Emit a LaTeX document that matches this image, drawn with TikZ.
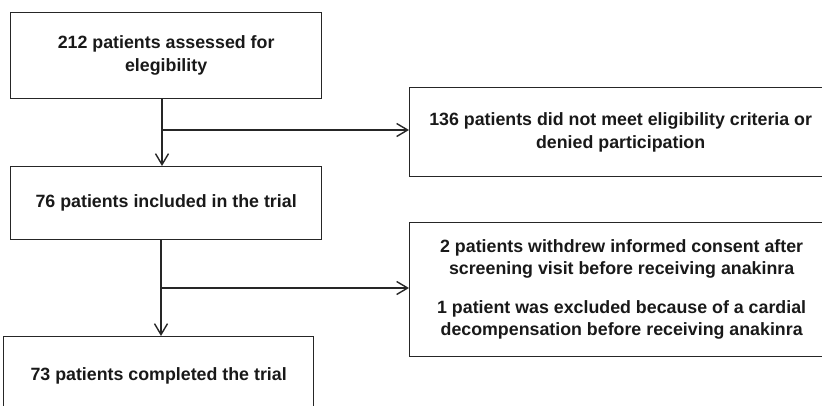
\documentclass[tikz,border=0pt]{standalone}
\usepackage{fontspec}
\setmainfont{Liberation Sans}
\usetikzlibrary{arrows.meta}
\tikzset{
  box/.style={draw=black!85, line width=1.3pt, anchor=north west, inner sep=0pt,
    font=\fontsize{17.8pt}{22.5pt}\selectfont\bfseries, align=center, text=black!90},
  arr/.style={draw=black!85, line width=1.4pt, -{Straight Barb[length=11pt,width=13pt,line width=1.4pt]}},
  ln/.style={draw=black!85, line width=1.4pt}
}
\begin{document}
\begin{tikzpicture}[x=1pt,y=-1pt]
\useasboundingbox (0,0) rectangle (822,405);
\clip (0,0) rectangle (822,405);
\node[box, minimum width=311pt, minimum height=86pt] (b1) at (10,12)
  {\rule{0pt}{6pt}212 patients assessed for\\elegibility};
\node[box, minimum width=422pt, minimum height=89pt] (b2) at (409,87)
  {136 patients did not meet eligibility criteria or\\denied participation};
\node[box, minimum width=311pt, minimum height=73pt] (b3) at (10,166)
  {76 patients included in the trial};
\node[box, minimum width=424pt, minimum height=134pt] (b4) at (409,222)
  {2 patients withdrew informed consent after\\screening visit before receiving anakinra\\[16pt]1 patient was excluded because of a cardial\\decompensation before receiving anakinra};
\node[box, minimum width=310pt, minimum height=78pt] (b5) at (3,336)
  {73 patients completed the trial};
\coordinate (j1) at (162,130);
\coordinate (j2) at (161,288);
\draw[arr] (j1 |- b1.south) -- (j1 |- b3.north);
\draw[arr] (j1) -- (j1 -| b2.west);
\draw[arr] (j2 |- b3.south) -- (j2 |- b5.north);
\draw[arr] (j2) -- (j2 -| b4.west);
\end{tikzpicture}
\end{document}
